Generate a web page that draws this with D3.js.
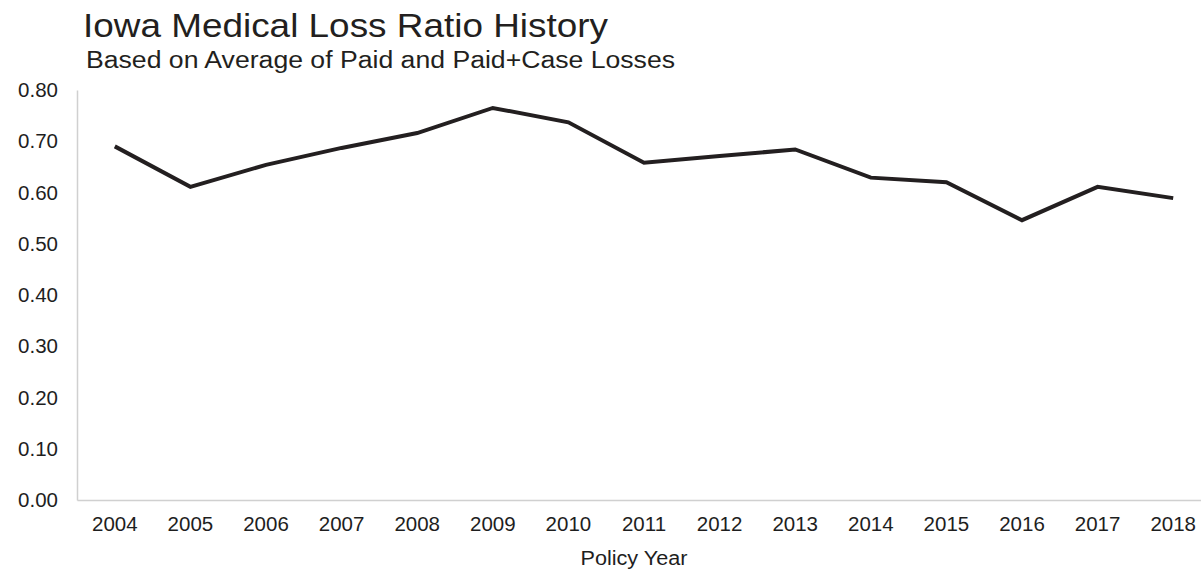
<!DOCTYPE html>
<html>
<head>
<meta charset="utf-8">
<script src="https://cdn.jsdelivr.net/npm/d3@7"></script>
<style>
  body { margin: 0; background: #fff; }
  svg { display: block; font-family: "Liberation Sans", Arial, sans-serif; }
  .axis path { stroke: #d0d0d0; stroke-width: 1.5; }
  .axis text { font-size: 20.5px; fill: #1e1e1e; }
</style>
</head>
<body>
<div id="chart"></div>
<script>
// policy years
var years = ['2004', '2005', '2006', '2007', '2008', '2009', '2010', '2011',
             '2012', '2013', '2014', '2015', '2016', '2017', '2018'];
// loss ratio, avg of paid and paid+case
var lossRatio = [0.690, 0.611, 0.654, 0.687, 0.716, 0.765, 0.737, 0.658,
                 0.671, 0.684, 0.629, 0.620, 0.546, 0.611, 0.589];
var yTicks = [0, 0.1, 0.2, 0.3, 0.4, 0.5, 0.6, 0.7, 0.8];

var w = 1201, h = 569;
var margin = { top: 90, left: 77, bottom: 69 };

var svg = d3.select('#chart').append('svg')
    .attr('width', w)
    .attr('height', h);

var data = years.map(function(y, i) {
    return { year: y, value: lossRatio[i] };
});

// band runs a bit past the right edge, as in the original
var xScale = d3.scaleBand()
    .domain(years)
    .range([margin.left, 1211]);

var yScale = d3.scaleLinear()
    .domain([0, 0.8])
    .range([h - margin.bottom, margin.top]);

// y axis
svg.append('g')
    .attr('class', 'axis y')
    .attr('transform', 'translate(' + margin.left + ',0)')
    .call(d3.axisLeft(yScale)
        .tickValues(yTicks)
        .tickSize(0)
        .tickPadding(19)
        .tickFormat(d3.format('.2f')));

// x axis
svg.append('g')
    .attr('class', 'axis x')
    .attr('transform', 'translate(0,' + (h - margin.bottom) + ')')
    .call(d3.axisBottom(xScale)
        .tickSize(0)
        .tickPadding(16));

svg.selectAll('.axis .domain').attr('stroke', '#d0d0d0');

// the line
var line = d3.line()
    .x(function(d) { return xScale(d.year) + xScale.bandwidth() / 2; })
    .y(function(d) { return yScale(d.value); });

svg.append('path')
    .datum(data)
    .attr('fill', 'none')
    .attr('stroke', '#231f20')
    .attr('stroke-width', 4)
    .attr('stroke-linejoin', 'miter')
    .attr('d', line);

// titles
svg.append('text')
    .attr('x', 83)
    .attr('y', 37)
    .attr('font-size', 34)
    .attr('fill', '#231f20')
    .attr('textLength', 525)
    .attr('lengthAdjust', 'spacingAndGlyphs')
    .text('Iowa Medical Loss Ratio History');

svg.append('text')
    .attr('x', 86)
    .attr('y', 68)
    .attr('font-size', 23)
    .attr('fill', '#231f20')
    .attr('textLength', 589)
    .attr('lengthAdjust', 'spacingAndGlyphs')
    .text('Based on Average of Paid and Paid+Case Losses');

svg.append('text')
    .attr('x', 634)
    .attr('y', 565)
    .attr('text-anchor', 'middle')
    .attr('font-size', 20)
    .attr('fill', '#1e1e1e')
    .attr('textLength', 107)
    .attr('lengthAdjust', 'spacingAndGlyphs')
    .text('Policy Year');
</script>
</body>
</html>
